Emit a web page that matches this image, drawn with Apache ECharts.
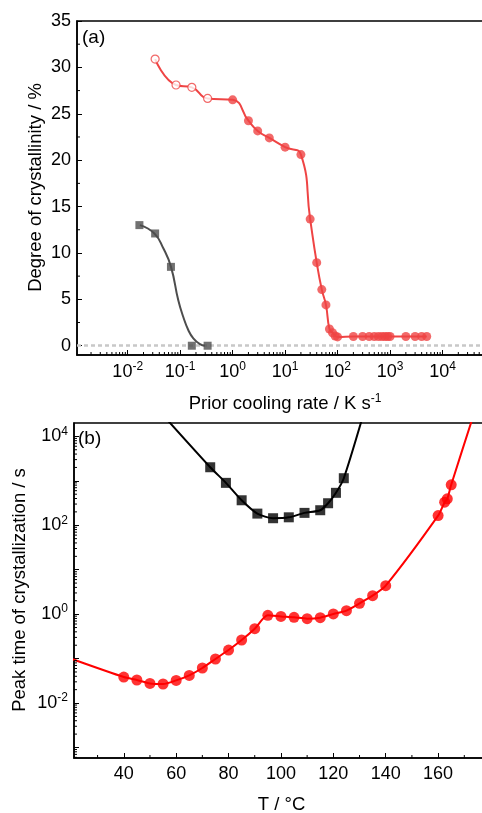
<!DOCTYPE html>
<html>
<head>
<meta charset="utf-8">
<script src="https://cdn.jsdelivr.net/npm/echarts@6/dist/echarts.min.js"></script>
<style>
  html, body { margin: 0; padding: 0; background: #fff; overflow: hidden; }
  /* the plot frames run past the right edge of the window */
  #chart { width: 500px; height: 813px; }
</style>
</head>
<body>
<div id="chart"></div>
<script>
// ---------- Panel (a): degree of crystallinity vs prior cooling rate ----------
const rateBlack = [0.0167, 0.0333, 0.0667, 0.1667, 0.3333];
const crystBlack = [13.0, 12.1, 8.5, 0.0, 0.0];
// sigmoidal fit drawn through the dark series
const fitRateBlack = [0.0171, 0.0322, 0.0477, 0.0668, 0.092, 0.1146, 0.1426, 0.178, 0.238, 0.296];
const fitCrystBlack = [13.0, 12.1, 10.5, 8.5, 4.9, 3.1, 1.7, 0.8, 0.18, 0.0];

const rateRedOpen = [0.0333, 0.0833, 0.1667, 0.3333];
const crystRedOpen = [30.9, 28.1, 27.85, 26.65];
const rateRed = [1, 2, 3, 5, 10, 20, 30, 40, 50, 60, 70, 80, 90, 100,
                 200, 300, 400, 500, 600, 700, 800, 900, 1000, 2000, 3000, 4000, 5000];
const crystRed = [26.5, 24.25, 23.15, 22.4, 21.4, 20.6, 13.65, 8.95, 6.05, 4.4, 1.8, 1.4, 1.05, 0.95,
                  1.0, 1.0, 1.0, 1.0, 1.0, 1.0, 1.0, 1.0, 1.0, 1.0, 1.0, 1.0, 1.0];

// ---------- Panel (b): peak time of crystallization vs temperature ----------
const tempBlack = [73, 79, 85, 91, 97, 103, 109, 115, 118, 121, 124];
const timeBlack = [2020, 900, 365, 183, 144, 151, 190, 218, 313, 537, 1145];
// trend line continues past the top of the frame on both sides
const tempBlackLine = [55].concat(tempBlack, [132]);
const timeBlackLine = [3.0e4].concat(timeBlack, [4.0e4]);

const tempRed = [40, 45, 50, 55, 60, 65, 70, 75, 80, 85, 90, 95, 100, 105, 110, 115, 120, 125, 130, 135, 140,
                 160, 162.5, 163.5, 165];
const timeRed = [0.0385, 0.033, 0.0276, 0.0268, 0.0323, 0.0419, 0.0614, 0.098, 0.156, 0.262, 0.471,
                 0.94, 0.89, 0.847, 0.792, 0.834, 1.01, 1.2, 1.75, 2.61, 4.38,
                 165, 330, 393, 813];
const tempRedLine = [20].concat(tempRed, [174]);
const timeRedLine = [0.099].concat(timeRed, [3.7e4]);

// ---------- axis ranges and ticks ----------
const xMinA = 0.00108, xMaxA = 1e5, yMinA = -1, yMaxA = 35;
const xMinB = 21, xMaxB = 180, yMinB = 5.8e-4, yMaxB = 2.0e4;
const yMinorA = [2.5, 7.5, 12.5, 17.5, 22.5, 27.5, 32.5];
const xMinorB = [30, 50, 70, 90, 110, 130, 150, 170];
const logSteps = [2, 3, 4, 5, 6, 7, 8, 9];
const decadesA = [-3, -2, -1, 0, 1, 2, 3, 4];
const decadesB = [-4, -3, -2, -1, 0, 1, 2, 3, 4];

function logMinor(decades, lo, hi) {
  const out = [];
  decades.forEach(d => logSteps.forEach(s => {
    const v = s * Math.pow(10, d);
    if (v > lo && v < hi) out.push(v);
  }));
  return out;
}

const FONT = "'Liberation Sans', Arial, sans-serif";
const TICK_FS = 18;
const rich = {
  b: { fontSize: TICK_FS, fontFamily: FONT, color: '#000', lineHeight: 22 },
  s: { fontSize: 12, fontFamily: FONT, color: '#000', verticalAlign: 'top', lineHeight: 12 }
};

function powLabel(evenOnly) {
  return function (v) {
    const e = Math.log10(v);
    const r = Math.round(e);
    if (Math.abs(e - r) > 1e-6) return '';
    if (evenOnly && r % 2 !== 0) return '';
    return '{b|10}{s|' + r + '}';
  };
}

const pair = (xs, ys) => xs.map((x, i) => [x, ys[i]]);

const axisLine = { onZero: false, lineStyle: { color: '#000', width: 1.5 } };
const axisTick = { inside: true, length: 5, lineStyle: { color: '#000', width: 1 } };

// minor tick marks drawn along an axis through the axis scale
function tickSeries(xi, yi, points, vertical) {
  return {
    type: 'custom', xAxisIndex: xi, yAxisIndex: yi, silent: true, z: 5,
    data: points, encode: { x: 0, y: 1 },
    renderItem: function (params, api) {
      const p = api.coord([api.value(0), api.value(1)]);
      const shape = vertical
        ? { x1: p[0], y1: p[1], x2: p[0], y2: p[1] - 3 }
        : { x1: p[0], y1: p[1], x2: p[0] + 3, y2: p[1] };
      return { type: 'line', shape: shape, style: { stroke: '#000', lineWidth: 1 } };
    }
  };
}

const RED_A = '#ef4444', GRAY_A = '#4d4d4d';

const chart = echarts.init(document.getElementById('chart'), null, { renderer: 'canvas' });
chart.setOption({
  animation: false,
  backgroundColor: '#fff',
  grid: [
    { left: 77, top: 21, right: 5, bottom: 458, show: true, borderColor: '#000', borderWidth: 1.5, backgroundColor: 'transparent' },
    { left: 74, top: 423, right: 9.5, bottom: 55, show: true, borderColor: '#000', borderWidth: 1.5, backgroundColor: 'transparent' }
  ],
  xAxis: [
    { type: 'log', logBase: 10, gridIndex: 0, min: xMinA, max: xMaxA,
      axisLine: axisLine, axisTick: axisTick, splitLine: { show: false },
      axisLabel: { formatter: powLabel(false), rich: rich, margin: 6, showMinLabel: false, showMaxLabel: false } },
    { type: 'value', gridIndex: 1, min: xMinB, max: xMaxB, splitNumber: 8,
      axisLine: axisLine, axisTick: axisTick, splitLine: { show: false },
      axisLabel: { fontSize: TICK_FS, fontFamily: FONT, color: '#000', margin: 7, showMinLabel: false, showMaxLabel: false } }
  ],
  yAxis: [
    { type: 'value', gridIndex: 0, min: yMinA, max: yMaxA, splitNumber: 7,
      axisLine: axisLine, axisTick: axisTick, splitLine: { show: false },
      axisLabel: { fontSize: TICK_FS, fontFamily: FONT, color: '#000', margin: 6, showMinLabel: false } },
    { type: 'log', logBase: 10, gridIndex: 1, min: yMinB, max: yMaxB,
      axisLine: axisLine, axisTick: axisTick, splitLine: { show: false },
      axisLabel: { formatter: powLabel(true), rich: rich, margin: 6, showMinLabel: false, showMaxLabel: false } }
  ],
  graphic: [
    { type: 'text', left: 82, top: 28, style: { text: '(a)', font: "19px " + FONT, fill: '#000' } },
    { type: 'text', left: 78, top: 429, style: { text: '(b)', font: "19px " + FONT, fill: '#000' } },
    { type: 'text', x: 35.5, y: 187.5, rotation: Math.PI / 2,
      style: { text: 'Degree of crystallinity / %', font: "18.5px " + FONT, fill: '#000', align: 'center', verticalAlign: 'middle' } },
    { type: 'text', x: 20, y: 590, rotation: Math.PI / 2,
      style: { text: 'Peak time of crystallization / s', font: "18.5px " + FONT, fill: '#000', align: 'center', verticalAlign: 'middle' } },
    { type: 'text', x: 285, y: 404,
      style: { text: '{t|Prior cooling rate / K s}{u|-1}', align: 'center', verticalAlign: 'middle',
        rich: { t: { fontSize: 18.5, fontFamily: FONT, fill: '#000', lineHeight: 22 },
                u: { fontSize: 12, fontFamily: FONT, fill: '#000', verticalAlign: 'top', lineHeight: 12 } } } },
    { type: 'text', x: 281.5, y: 805,
      style: { text: 'T / \u00B0C', font: "18.5px " + FONT, fill: '#000', align: 'center', verticalAlign: 'middle' } }
  ],
  series: [
    // panel (a)
    { type: 'line', xAxisIndex: 0, yAxisIndex: 0, data: pair(fitRateBlack, fitCrystBlack),
      smooth: 0.5, showSymbol: false, lineStyle: { color: GRAY_A, width: 2 }, silent: true,
      markLine: { silent: true, symbol: 'none', label: { show: false }, z: 1,
        lineStyle: { color: '#c8c8c8', type: [4, 3], width: 2.5 }, data: [{ yAxis: 0 }] } },
    { type: 'scatter', xAxisIndex: 0, yAxisIndex: 0, data: pair(rateBlack, crystBlack),
      symbol: 'rect', symbolSize: 8, itemStyle: { color: GRAY_A }, z: 4 },
    { type: 'line', xAxisIndex: 0, yAxisIndex: 0,
      data: pair(rateRedOpen.concat(rateRed), crystRedOpen.concat(crystRed)),
      smooth: 0.5, showSymbol: false, lineStyle: { color: RED_A, width: 2 }, silent: true },
    { type: 'scatter', xAxisIndex: 0, yAxisIndex: 0, data: pair(rateRedOpen, crystRedOpen),
      symbol: 'circle', symbolSize: 8, itemStyle: { color: '#fff', borderColor: RED_A, borderWidth: 1.2 }, z: 4 },
    { type: 'scatter', xAxisIndex: 0, yAxisIndex: 0, data: pair(rateRed, crystRed),
      symbol: 'circle', symbolSize: 9, itemStyle: { color: RED_A }, z: 4 },
    tickSeries(0, 0, logMinor(decadesA, xMinA, xMaxA).map(v => [v, yMinA]), true),
    tickSeries(0, 0, yMinorA.map(v => [xMinA, v]), false),

    // panel (b)
    { type: 'line', xAxisIndex: 1, yAxisIndex: 1, data: pair(tempBlackLine, timeBlackLine),
      smooth: 0.25, showSymbol: false, lineStyle: { color: '#000', width: 2 }, silent: true },
    { type: 'scatter', xAxisIndex: 1, yAxisIndex: 1, data: pair(tempBlack, timeBlack),
      symbol: 'rect', symbolSize: 10, itemStyle: { color: '#000' }, z: 4 },
    { type: 'line', xAxisIndex: 1, yAxisIndex: 1, data: pair(tempRedLine, timeRedLine),
      smooth: 0.25, showSymbol: false, lineStyle: { color: '#ff0000', width: 2 }, silent: true },
    { type: 'scatter', xAxisIndex: 1, yAxisIndex: 1, data: pair(tempRed, timeRed),
      symbol: 'circle', symbolSize: 11, itemStyle: { color: '#ff0000' }, z: 4 },
    tickSeries(1, 1, xMinorB.map(v => [v, yMinB]), true),
    tickSeries(1, 1, logMinor(decadesB, yMinB, yMaxB).map(v => [xMinB, v]), false)
  ]
});
</script>
</body>
</html>
